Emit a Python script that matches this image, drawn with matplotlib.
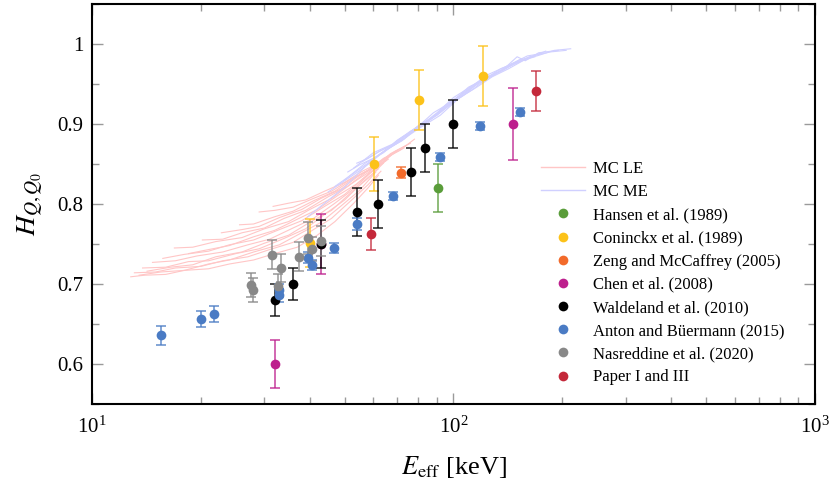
import matplotlib
matplotlib.use("Agg")
import matplotlib.pyplot as plt
from matplotlib.lines import Line2D
from matplotlib.ticker import LogLocator, MultipleLocator, FixedLocator

plt.rcParams['font.family'] = ['Liberation Serif', 'DejaVu Serif']
plt.rcParams['mathtext.fontset'] = 'stix'

# --- MC curves (E_eff [keV], H) ---
mc_le = [
    ([12.8, 14, 16, 18, 21, 24, 28, 32, 37, 42, 47, 53, 58, 62],
     [0.709, 0.711, 0.712, 0.717, 0.719, 0.725, 0.730, 0.738, 0.746, 0.761, 0.778, 0.801, 0.820, 0.836]),
    ([13.1, 15, 17, 20, 23, 27, 31, 36, 41, 46, 52, 58, 63],
     [0.714, 0.715, 0.720, 0.722, 0.729, 0.734, 0.743, 0.752, 0.768, 0.782, 0.804, 0.824, 0.841]),
    ([13.5, 15.5, 18, 21, 24, 28, 33, 38, 43, 49, 55, 61],
     [0.711, 0.715, 0.717, 0.725, 0.730, 0.740, 0.749, 0.764, 0.777, 0.798, 0.817, 0.840]),
    ([13.8, 16, 18.5, 21, 25, 29, 34, 39, 44, 50, 56, 62],
     [0.720, 0.721, 0.728, 0.729, 0.738, 0.744, 0.757, 0.769, 0.787, 0.805, 0.827, 0.844]),
    ([14.2, 16.5, 19, 22, 26, 30, 35, 40, 46, 52, 58, 64],
     [0.716, 0.721, 0.724, 0.734, 0.740, 0.751, 0.761, 0.777, 0.792, 0.814, 0.832, 0.851]),
    ([14.7, 17, 19.5, 23, 27, 31, 36, 41, 47, 53, 59, 65],
     [0.727, 0.729, 0.735, 0.740, 0.749, 0.756, 0.770, 0.782, 0.801, 0.819, 0.839, 0.854]),
    ([15.7, 18, 21, 24, 28, 33, 38, 44, 50, 56, 62, 68],
     [0.732, 0.737, 0.741, 0.749, 0.755, 0.768, 0.779, 0.797, 0.812, 0.831, 0.847, 0.863]),
    ([16.9, 19, 22, 26, 30, 35, 40, 46, 52, 58, 64, 70],
     [0.745, 0.746, 0.753, 0.758, 0.769, 0.778, 0.793, 0.807, 0.825, 0.839, 0.856, 0.867]),
    ([18.5, 21, 24, 28, 32, 37, 42, 48, 54, 60, 66],
     [0.738, 0.743, 0.748, 0.759, 0.767, 0.781, 0.793, 0.811, 0.825, 0.843, 0.856]),
    ([20.2, 23, 26, 30, 34, 39, 45, 51, 57, 63, 70],
     [0.755, 0.756, 0.764, 0.770, 0.782, 0.792, 0.809, 0.822, 0.839, 0.851, 0.867]),
    ([22.8, 26, 29, 33, 38, 43, 49, 55, 61, 67, 74],
     [0.764, 0.768, 0.772, 0.783, 0.793, 0.807, 0.819, 0.836, 0.848, 0.863, 0.873]),
    ([25.6, 28, 32, 36, 41, 47, 53, 59, 66, 73],
     [0.774, 0.775, 0.784, 0.791, 0.804, 0.816, 0.832, 0.844, 0.859, 0.870]),
    ([29, 32, 36, 41, 46, 52, 58, 64, 71, 78],
     [0.790, 0.792, 0.796, 0.807, 0.816, 0.831, 0.842, 0.857, 0.867, 0.881]),
    ([31.7, 35, 39, 44, 50, 56, 62, 69, 76],
     [0.797, 0.801, 0.805, 0.816, 0.827, 0.841, 0.851, 0.866, 0.876]),
]

mc_me = [
    ([39.5, 44, 50, 57, 64, 70, 79, 88, 100, 110, 122, 135, 150],
     [0.784, 0.801, 0.821, 0.847, 0.865, 0.880, 0.895, 0.914, 0.929, 0.946, 0.956, 0.969, 0.977]),
    ([51, 55, 60, 66, 73, 80, 90, 100, 112, 125, 140, 160, 175],
     [0.840, 0.849, 0.857, 0.869, 0.881, 0.896, 0.914, 0.933, 0.947, 0.962, 0.972, 0.985, 0.988]),
    ([54, 58, 63, 70, 78, 87, 97, 108, 120, 135, 152, 170, 190, 211],
     [0.851, 0.857, 0.867, 0.877, 0.894, 0.907, 0.926, 0.941, 0.956, 0.966, 0.980, 0.985, 0.992, 0.994]),
    ([47, 52, 58, 65, 72, 80, 90, 101, 113, 125, 138, 150, 158, 172, 195],
     [0.822, 0.836, 0.851, 0.868, 0.879, 0.898, 0.911, 0.929, 0.943, 0.959, 0.969, 0.984, 0.979, 0.989, 0.992]),
    ([53, 60, 68, 76, 85, 95, 106, 118, 130, 143, 160, 180],
     [0.845, 0.864, 0.875, 0.891, 0.903, 0.921, 0.935, 0.952, 0.962, 0.974, 0.982, 0.991]),
    ([45, 50, 56, 63, 71, 80, 92, 104, 116, 128, 142, 157, 168],
     [0.815, 0.829, 0.844, 0.863, 0.878, 0.894, 0.911, 0.933, 0.946, 0.959, 0.969, 0.980, 0.984]),
    ([56, 62, 70, 79, 88, 99, 110, 123, 137, 150, 162, 185, 205],
     [0.853, 0.865, 0.877, 0.896, 0.909, 0.928, 0.942, 0.958, 0.967, 0.977, 0.984, 0.990, 0.992]),
    ([50, 57, 64, 72, 81, 90, 101, 113, 127, 141, 155],
     [0.830, 0.851, 0.864, 0.883, 0.897, 0.911, 0.929, 0.947, 0.959, 0.971, 0.979]),
]

# --- measurements ---
hansen_E = [90.4]
hansen_H = [0.82]
hansen_err = [0.03]

coninckx_E = [40.0, 60.3, 80.3, 120.8]
coninckx_H = [0.751, 0.850, 0.930, 0.960]
coninckx_err = [0.03, 0.034, 0.037, 0.038]

zeng_E = [71.8]
zeng_H = [0.839]
zeng_err = [0.007]

chen_E = [32.0, 43.0, 145.7]
chen_H = [0.60, 0.75, 0.90]
chen_err = [0.03, 0.038, 0.045]

waldeland_E = [32.0, 36.0, 43.0, 54.1, 62.0, 76.4, 83.6, 99.8]
waldeland_H = [0.680, 0.700, 0.750, 0.790, 0.800, 0.840, 0.870, 0.900]
waldeland_err = [0.02, 0.02, 0.03, 0.03, 0.03, 0.03, 0.03, 0.03]

anton_E = [15.55, 20.0, 21.7, 32.9, 33.0, 39.7, 40.5, 46.8, 54.1, 68.0, 91.9, 118.2, 152.5]
anton_H = [0.636, 0.656, 0.663, 0.692, 0.686, 0.733, 0.724, 0.745, 0.775, 0.810, 0.859, 0.897, 0.915]
anton_err = [0.012, 0.01, 0.01, 0.008, 0.008, 0.007, 0.006, 0.006, 0.008, 0.005, 0.005, 0.005, 0.005]

nasreddine_E = [27.5, 27.8, 31.4, 32.6, 33.3, 37.5, 39.5, 40.5, 42.9]
nasreddine_H = [0.699, 0.693, 0.7365, 0.698, 0.720, 0.734, 0.758, 0.744, 0.754]
nasreddine_err = [0.015, 0.015, 0.018, 0.015, 0.018, 0.018, 0.02, 0.015, 0.019]

paper_E = [59.0, 169.3]
paper_H = [0.762, 0.941]
paper_err = [0.02, 0.025]

datasets = [
    ("Hansen et al. (1989)", hansen_E, hansen_H, hansen_err, "#5a9d3a"),
    ("Coninckx et al. (1989)", coninckx_E, coninckx_H, coninckx_err, "#fcc219"),
    ("Zeng and McCaffrey (2005)", zeng_E, zeng_H, zeng_err, "#f26a2a"),
    ("Chen et al. (2008)", chen_E, chen_H, chen_err, "#bd1f8d"),
    ("Waldeland et al. (2010)", waldeland_E, waldeland_H, waldeland_err, "#000000"),
    ("Anton and Büermann (2015)", anton_E, anton_H, anton_err, "#4a7bc4"),
    ("Nasreddine et al. (2020)", nasreddine_E, nasreddine_H, nasreddine_err, "#888888"),
    ("Paper I and III", paper_E, paper_H, paper_err, "#c4283a"),
]

le_color = "#ffc6c6"
me_color = "#d0d0ff"

fig = plt.figure(figsize=(8.31, 4.82), dpi=100)
ax = fig.add_axes([0.1107, 0.1618, 0.870, 0.830])

for e, h in mc_le:
    ax.plot(e, h, color=le_color, lw=0.8, zorder=1)
for e, h in mc_me:
    ax.plot(e, h, color=me_color, lw=0.8, zorder=2)

for label, e, h, err, c in datasets:
    ax.errorbar(e, h, yerr=err, fmt='none', ecolor=c, elinewidth=1.2,
                capsize=3.5, capthick=1.2, alpha=0.8, zorder=3)
    ax.plot(e, h, 'o', color=c, ms=7, mec='none', zorder=4)

ax.set_xscale('log')
ax.set_xlim(10, 1000)
ax.set_ylim(0.55, 1.05)
ax.yaxis.set_major_locator(FixedLocator([0.6, 0.7, 0.8, 0.9, 1.0]))
ax.yaxis.set_major_formatter(plt.FuncFormatter(lambda v, p: "1" if abs(v - 1) < 1e-9 else f"{v:.1f}"))
ax.yaxis.set_minor_locator(MultipleLocator(0.05))
ax.xaxis.set_major_locator(LogLocator(base=10))
ax.xaxis.set_minor_locator(LogLocator(base=10, subs=range(2, 10)))

ax.tick_params(which='both', direction='in', top=True, right=True, colors='#9a9a9a',
               labelcolor='black', labelsize=15, width=1)
ax.tick_params(which='major', length=8, pad=6)
ax.tick_params(axis='x', which='major', pad=9)
ax.tick_params(which='minor', length=5)
for s in ax.spines.values():
    s.set_linewidth(1.5)
    s.set_color('black')

ax.set_xlabel(r"$E_\mathrm{eff}$ [keV]", fontsize=19, labelpad=12)
ax.set_ylabel(r"$H_{Q,Q_0}$", fontsize=20, labelpad=8)

handles = [Line2D([], [], color=le_color, lw=1.0), Line2D([], [], color=me_color, lw=1.0)]
labels = ["MC LE", "MC ME"]
for label, e, h, err, c in datasets:
    handles.append(Line2D([], [], ls='none', marker='o', color=c, ms=7, mec='none'))
    labels.append(label)
fig.legend(handles, labels, loc='upper left', bbox_to_anchor=(0.651, 0.666),
           frameon=False, fontsize=12, handlelength=2.65, handletextpad=0.45,
           labelspacing=0.43, borderpad=0, borderaxespad=0)

fig.savefig("out.png", dpi=100)
